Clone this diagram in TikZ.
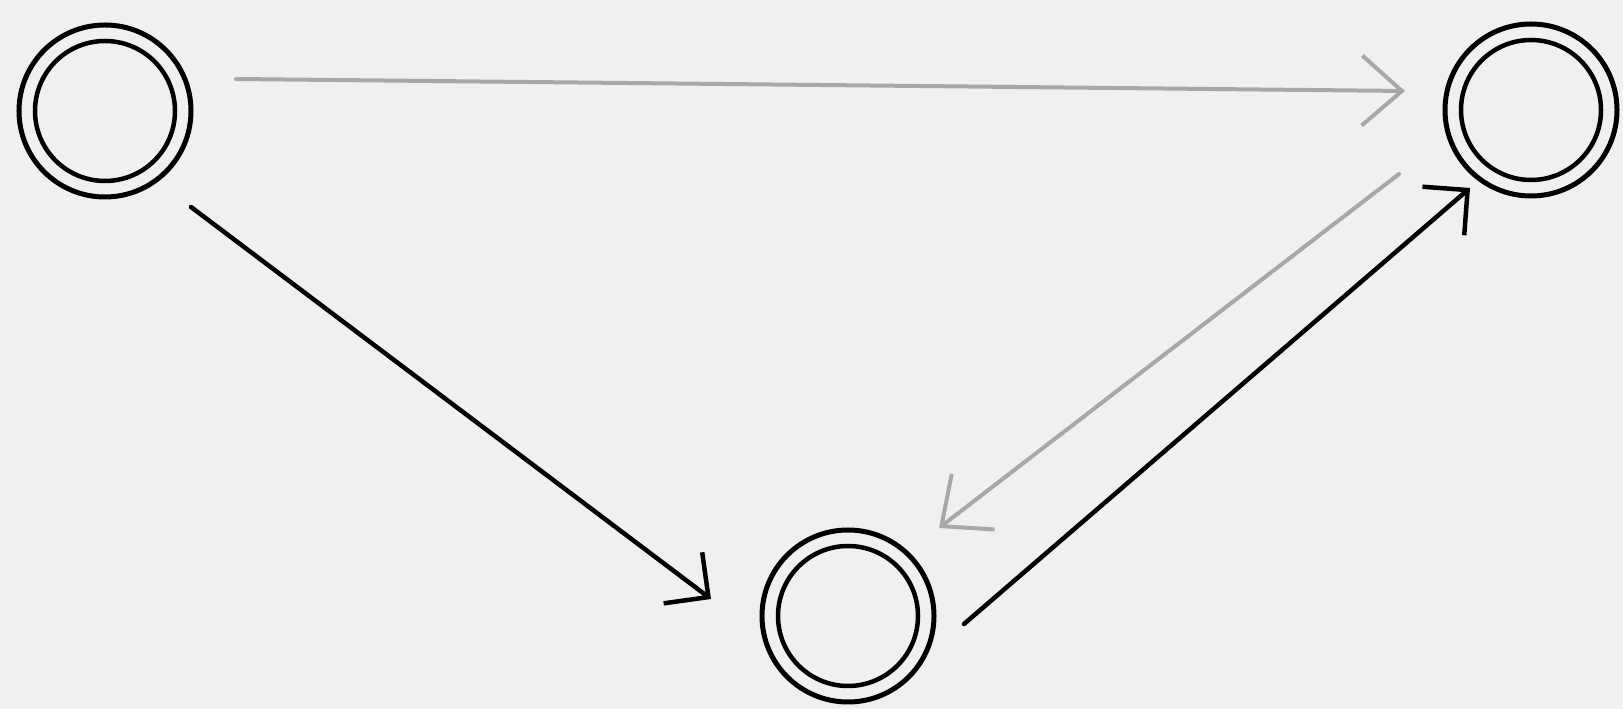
\documentclass[tikz,border=0pt]{standalone}
\usetikzlibrary{arrows.meta,calc}
\definecolor{bg}{HTML}{F0F0F0}
\definecolor{lg}{HTML}{A8A8A8}
\tikzset{
  ring/.style={circle,draw=black,line width=5pt,minimum size=172pt,inner sep=0pt},
  inring/.style={circle,draw=black,line width=4.5pt,minimum size=140pt,inner sep=0pt},
  blk/.style={draw=black,line width=4.5pt,line cap=round,line join=round,-{Straight Barb[length=32pt,width=64pt,line width=4.5pt]}},
  gry/.style={draw=lg,line width=4pt,line cap=round,line join=round,-{Straight Barb[length=40pt,width=70pt,line width=4pt]}}
}
\begin{document}
\begin{tikzpicture}[x=1pt,y=1pt]
\fill[bg] (0,0) rectangle (1623,709);
\useasboundingbox (0,0) rectangle (1623,709);
\node[ring] (a) at (105,598) {};
\node[inring] (ai) at (a.center) {};
\node[ring] (b) at (1531,599) {};
\node[inring] (bi) at (b.center) {};
\node[ring] (c) at (848,93) {};
\node[inring] (ci) at (c.center) {};
\draw[gry] ([shift={(131,32)}]a.center) -- ([shift={(-126,19)}]b.center);
\draw[blk] ([shift={(86,-96)}]a.center) -- ([shift={(-137,17)}]c.center);
\draw[gry] ([shift={(-132,-64)}]b.center) -- ([shift={(91,88)}]c.center);
\draw[blk] ([shift={(116,-8)}]c.center) -- ([shift={(-61,-78)}]b.center);
\end{tikzpicture}
\end{document}
